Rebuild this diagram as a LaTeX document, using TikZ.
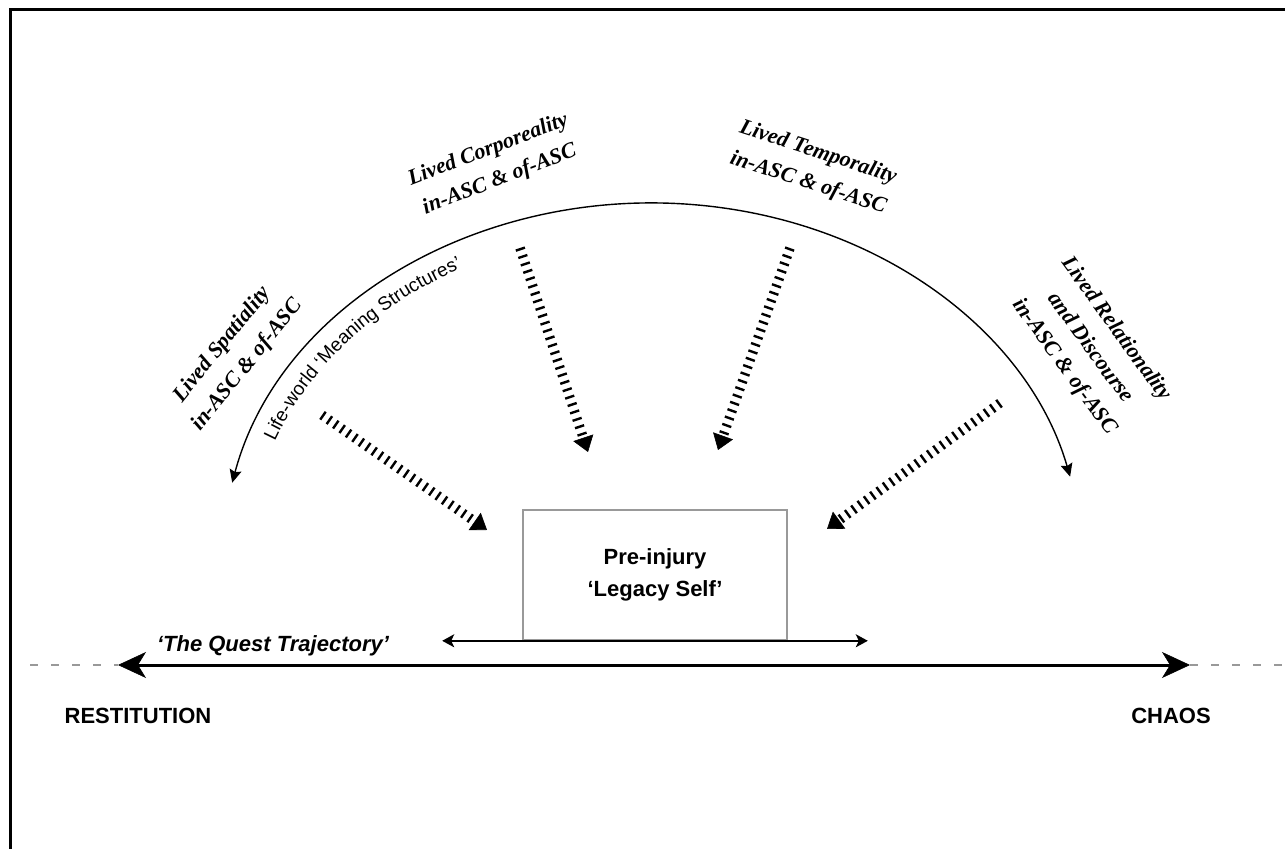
\documentclass[tikz,border=0pt]{standalone}
\usepackage{fontspec}
\setmainfont{Liberation Sans}
\newfontfamily\livedfont{Liberation Serif}
\usetikzlibrary{arrows.meta,decorations.text}

\begin{document}
\begin{tikzpicture}[x=0.5pt,y=-0.5pt,
   lived/.style={font=\livedfont\bfseries\itshape\fontsize{11}{16}\selectfont,align=center},
   pole/.style={font=\bfseries\fontsize{11}{13}\selectfont},
   selfbox/.style={draw=black!40,line width=0.8pt,minimum width=132pt,minimum height=65pt,align=center,font=\bfseries\fontsize{11}{16}\selectfont},
   hatch/.style={line width=4.8pt,dash pattern=on 1.2pt off 2.7pt,-{Triangle[length=7.5pt,width=10.5pt,line width=0.3pt]}},
   traj/.style={line width=1.5pt,{Stealth[length=14pt,width=13pt,inset=4pt,line width=0.3pt]}-{Stealth[length=14pt,width=13pt,inset=4pt,line width=0.3pt]}},
   spread/.style={line width=0.75pt,{Stealth[length=6pt,width=6.5pt,inset=1.5pt]}-{Stealth[length=6pt,width=6.5pt,inset=1.5pt]}},
   trail/.style={black!40,line width=1.3pt,dash pattern=on 4pt off 6.5pt},
   worldarc/.style={line width=0.7pt,{Stealth[length=6.5pt,width=6pt,inset=1pt]}-{Stealth[length=6.5pt,width=6pt,inset=1pt]}}]
   \useasboundingbox (0,0) rectangle (1285,849);
   \draw[line width=1.5pt] (10,849) -- (10,10) -- (1285,10);

   % life-world arc
   \coordinate (arcC) at (652,560);
   \draw[worldarc] (arcC) ++(-167.5:430 and 357) arc[start angle=-167.5,end angle=-13.5,x radius=430,y radius=357];
   \path[decorate,decoration={text along path,text align=left,text={|\fontsize{9.5}{12}\selectfont|Life-world ‘Meaning Structures’}}]
      (arcC) ++(-159:404 and 331) arc[start angle=-159,end angle=-95,x radius=404,y radius=331];

   \node[lived,rotate=51] (spat) at (235,355) {Lived Spatiality\\in-ASC \& of-ASC};
   \node[lived,rotate=21] (corp) at (494,165) {Lived Corporeality\\in-ASC \& of-ASC};
   \node[lived,rotate=-18] (temp) at (813,168) {Lived Temporality\\in-ASC \& of-ASC};
   \node[lived,rotate=-54] (rel) at (1090,348) {Lived Relationality\\and Discourse\\in-ASC \& of-ASC};

   \node[selfbox] (self) at (655,575) {Pre-injury\\‘Legacy Self’};

   \coordinate (h1s) at (322,415); \coordinate (h1e) at (487,530);
   \coordinate (h2s) at (520,248); \coordinate (h2e) at (588,452);
   \coordinate (h3s) at (790,248); \coordinate (h3e) at (718,450);
   \coordinate (h4s) at (1000,403); \coordinate (h4e) at (827,529);
   \draw[hatch] (h1s) -- (h1e);
   \draw[hatch] (h2s) -- (h2e);
   \draw[hatch] (h3s) -- (h3e);
   \draw[hatch] (h4s) -- (h4e);

   \draw[spread] ([xshift=-40pt]self.south west) -- ([xshift=40pt]self.south east);

   % quest trajectory
   \coordinate (restL) at (118,665);
   \coordinate (chaosR) at (1190,665);
   \draw[trail] (30,665) -- (restL);
   \draw[trail] (chaosR) -- (1285,665);
   \draw[traj] (restL) -- (chaosR);
   \node[font=\bfseries\itshape\fontsize{11}{13}\selectfont] (quest) at (273,646) {‘The Quest Trajectory’};
   \node[pole] (rest) at (138,716) {RESTITUTION};
   \node[pole] (chaos) at (1171,716) {CHAOS};
\end{tikzpicture}
\end{document}
